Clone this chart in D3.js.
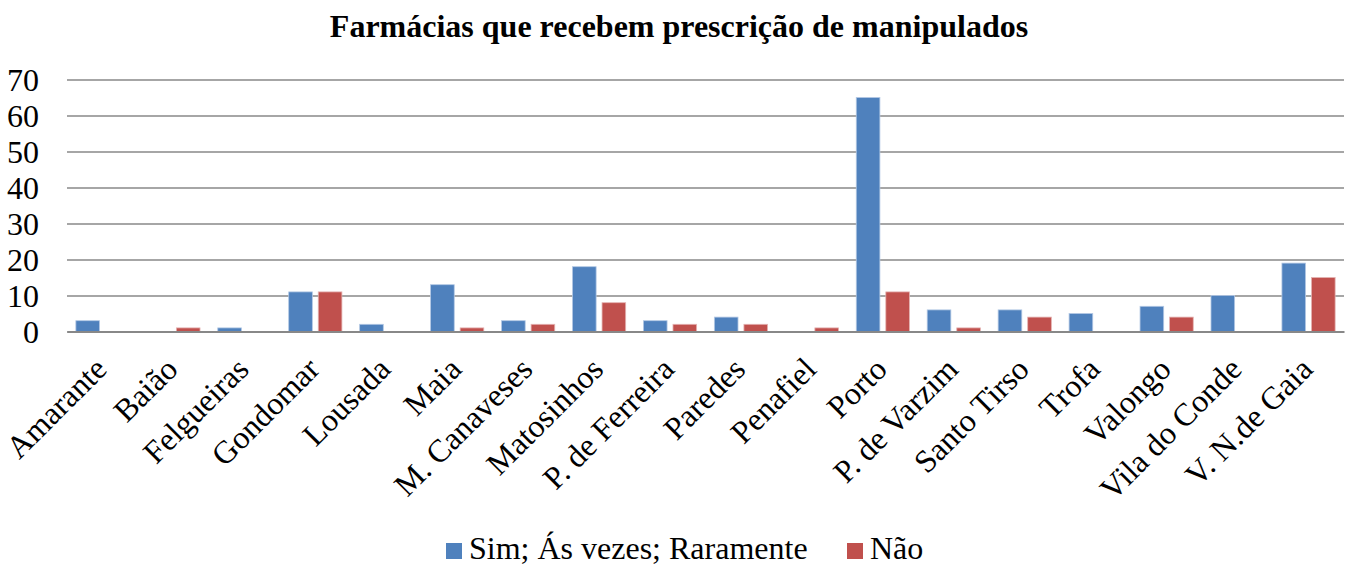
<!DOCTYPE html>
<html><head><meta charset="utf-8">
<script src="https://cdn.jsdelivr.net/npm/d3@7"></script>
<style>body{margin:0;background:#fff}svg{display:block}</style>
</head><body>
<svg id="c" width="1349" height="566"></svg>
<script>
const categories = ["Amarante","Baião","Felgueiras","Gondomar","Lousada","Maia","M. Canaveses","Matosinhos","P. de Ferreira","Paredes","Penafiel","Porto","P. de Varzim","Santo Tirso","Trofa","Valongo","Vila do Conde","V. N.de Gaia"];
const simValues = [3,0,1,11,2,13,3,18,3,4,0,65,6,6,5,7,10,19];
const naoValues = [0,1,0,11,0,1,2,8,2,2,1,11,1,4,0,4,0,15];
const seriesNames = ["Sim; Ás vezes; Raramente","Não"];
const yTicks = [0,10,20,30,40,50,60,70];
const title = "Farmácias que recebem prescrição de manipulados";
const colors = ["#4F81BD","#C0504D"];

const FONT = "'Liberation Serif', 'Times New Roman', serif";
const svg = d3.select("#c");
const pLeft = 67, pRight = 1344, pTop = 79.5, pBottom = 331.5;
const x = d3.scaleBand().domain(categories).range([pLeft, pRight]).paddingInner(0).paddingOuter(0);
const x1 = d3.scaleBand().domain([0,1]).range([0, x.bandwidth()]).paddingInner(0.2).paddingOuter(0.3);
const y = d3.scaleLinear().domain([0,70]).range([pBottom, pTop]);

svg.append("text").attr("x", 679).attr("y", 37).attr("text-anchor","middle")
  .style("font-family", FONT).style("font-size","32px").style("font-weight","bold").style("fill","#000").text(title);

// gridlines
const yAxis = d3.axisLeft(y).tickValues(yTicks).tickSize(-(pRight-pLeft)).tickPadding(28).tickFormat(d3.format("d"));
const g = svg.append("g").attr("transform", `translate(${pLeft},0)`).call(yAxis);
g.select(".domain").remove();
g.selectAll(".tick line").attr("stroke","#888888").attr("stroke-width",1.6);
g.selectAll(".tick text").style("font-family", FONT).style("font-size","32px").style("fill","#000").attr("dy","0.34em");

// bars
const data = [simValues, naoValues];
data.forEach((vals, s) => {
  svg.append("g").selectAll("rect").data(vals).join("rect")
    .attr("x", (d,i) => x(categories[i]) + x1(s))
    .attr("width", x1.bandwidth())
    .attr("y", d => y(d))
    .attr("height", d => y(0) - y(d))
    .attr("fill", colors[s])
    .attr("stroke", s===0 ? "#b3c8e4" : "#e4b3b2").attr("stroke-width", 0.8);
});

// baseline axis
const xAxis = d3.axisBottom(x).tickSize(0).tickPadding(0);
const ax = svg.append("g").attr("transform", `translate(0,${pBottom})`).call(xAxis);
ax.select(".domain").attr("stroke","#888888").attr("stroke-width",2);
ax.selectAll(".tick text").style("font-family", FONT).style("font-size","32px").style("fill","#000")
  .attr("text-anchor","end").attr("y",0).attr("dy","0.71em")
  .attr("transform","translate(-10,23.5) rotate(-45)");

// legend
const leg = svg.append("g");
const items = [{x:446, name:seriesNames[0], c:colors[0]},{x:847, name:seriesNames[1], c:colors[1]}];
items.forEach(it => {
  leg.append("rect").attr("x", it.x).attr("y", 543).attr("width", 16).attr("height", 16).attr("fill", it.c);
  leg.append("text").attr("x", it.x + 23).attr("y", 559)
    .style("font-family", FONT).style("font-size","32px").style("fill","#000").text(it.name);
});
</script>
</body></html>
